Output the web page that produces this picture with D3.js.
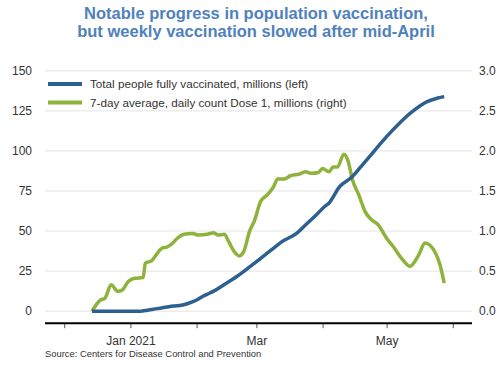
<!DOCTYPE html>
<html>
<head>
<meta charset="utf-8">
<title>Vaccination progress</title>
<script src="https://cdn.jsdelivr.net/npm/d3@7"></script>
<style>
  body { margin: 0; background: #fff; }
  svg { font-family: "Liberation Sans", Arial, sans-serif; }
</style>
</head>
<body>
<svg width="500" height="365"></svg>
<script>
// fully vaccinated, millions (left axis)
var fullyDates = ["2020-12-14","2021-01-06","2021-01-08","2021-01-11","2021-01-16","2021-01-19","2021-01-26","2021-01-30",
  "2021-02-01","2021-02-04","2021-02-07","2021-02-09","2021-02-14","2021-02-20","2021-02-26","2021-03-03","2021-03-08",
  "2021-03-13","2021-03-20","2021-03-24","2021-03-29","2021-04-02","2021-04-04","2021-04-09","2021-04-15","2021-04-19",
  "2021-04-25","2021-05-01","2021-05-07","2021-05-13","2021-05-20","2021-05-25","2021-05-28"];
var fullyValues = [0, 0, 0.4, 1.0, 2.2, 2.8, 4.0, 5.8,
  7.0, 9.3, 11.2, 12.5, 16.7, 21.8, 27.8, 33.0, 38.2,
  43.4, 48.7, 53.8, 60.0, 65.3, 67.4, 77.7, 84.0, 90.2,
  99.6, 108.9, 117.3, 124.5, 130.8, 133.0, 133.9];

// 7-day average daily Dose 1, millions (right axis)
var dose1Dates = ["2020-12-14","2020-12-18","2020-12-20","2020-12-23","2020-12-26","2020-12-28","2020-12-31","2021-01-03",
  "2021-01-07","2021-01-08","2021-01-11","2021-01-13","2021-01-16","2021-01-18","2021-01-20","2021-01-23","2021-01-26",
  "2021-01-30","2021-02-02","2021-02-06","2021-02-09","2021-02-11","2021-02-14","2021-02-16","2021-02-19","2021-02-21",
  "2021-02-23","2021-02-26","2021-02-28","2021-03-03","2021-03-06","2021-03-09","2021-03-11","2021-03-14","2021-03-17",
  "2021-03-21","2021-03-24","2021-03-27","2021-03-30","2021-04-01","2021-04-04","2021-04-06","2021-04-08","2021-04-11",
  "2021-04-13","2021-04-15","2021-04-18","2021-04-21","2021-04-24","2021-04-27","2021-05-01","2021-05-04","2021-05-08",
  "2021-05-12","2021-05-16","2021-05-19","2021-05-24","2021-05-26","2021-05-28"];
var dose1Values = [0, 0.14, 0.16, 0.33, 0.25, 0.26, 0.37, 0.41,
  0.42, 0.60, 0.63, 0.70, 0.79, 0.80, 0.83, 0.91, 0.96,
  0.97, 0.95, 0.96, 0.98, 0.95, 0.96, 0.87, 0.73, 0.69,
  0.74, 1.01, 1.12, 1.37, 1.45, 1.55, 1.65, 1.65, 1.69,
  1.71, 1.74, 1.72, 1.73, 1.78, 1.74, 1.80, 1.80, 1.96,
  1.87, 1.64, 1.45, 1.24, 1.14, 1.08, 0.91, 0.81, 0.66,
  0.56, 0.70, 0.85, 0.72, 0.58, 0.35];

var leftTicks = [0, 25, 50, 75, 100, 125, 150];
var rightTicks = [0, 0.5, 1, 1.5, 2, 2.5, 3];
var seriesNames = ["Total people fully vaccinated, millions (left)",
                   "7-day average, daily count Dose 1, millions (right)"];
var titleLines = ["Notable progress in population vaccination,",
                  "but weekly vaccination slowed after mid-April"];
var source = "Source: Centers for Disease Control and Prevention";

var blue = "#2d5f8f", green = "#8db33c";
var parse = d3.timeParse("%Y-%m-%d");

var svg = d3.select("svg"),
    plotLeft = 45, plotRight = 472, plotTop = 70.8, plotBottom = 323.2;

var x = d3.scaleTime()
    .domain([parse("2020-11-22"), parse("2021-06-10")])
    .range([plotLeft, plotRight]);
var y = d3.scaleLinear().domain([-7.5, 150]).range([plotBottom, plotTop]);
var y2 = d3.scaleLinear().domain([-0.15, 3]).range([plotBottom, plotTop]);

// title
svg.append("g").selectAll("text")
  .data(titleLines)
  .enter().append("text")
    .attr("x", 256)
    .attr("y", function(d, i) { return 18.5 + i * 18; })
    .attr("text-anchor", "middle")
    .attr("font-weight", "bold")
    .attr("font-size", "16.5px")
    .attr("fill", "#4f81bd")
    .text(function(d) { return d; });

// grid
svg.append("g").selectAll("line")
  .data(leftTicks)
  .enter().append("line")
    .attr("x1", plotLeft).attr("x2", plotRight)
    .attr("y1", y).attr("y2", y)
    .attr("stroke", "#e3e3e3").attr("stroke-width", 1);

// left labels
svg.append("g").selectAll("text")
  .data(leftTicks)
  .enter().append("text")
    .attr("x", 32).attr("y", y).attr("dy", "0.35em")
    .attr("text-anchor", "end")
    .attr("font-size", "12px").attr("fill", "#333")
    .text(function(d) { return d; });

// right labels
svg.append("g").selectAll("text")
  .data(rightTicks)
  .enter().append("text")
    .attr("x", 479).attr("y", y2).attr("dy", "0.35em")
    .attr("font-size", "12px").attr("fill", "#333")
    .text(d3.format(".1f"));

// x axis
var xAxis = svg.append("g").attr("transform", "translate(0," + plotBottom + ")")
  .call(d3.axisBottom(x).ticks(d3.timeMonth.every(1)).tickSize(5)
    .tickFormat(function(d) {
      var m = d.getMonth();
      if (m === 0) return "Jan 2021";
      if (m === 2) return "Mar";
      if (m === 4) return "May";
      return "";
    }));
xAxis.select(".domain").remove();
xAxis.selectAll(".tick line").attr("stroke", "#555").attr("stroke-width", 1);
xAxis.selectAll(".tick text").attr("font-size", "12px").attr("fill", "#333")
    .attr("font-family", "Liberation Sans, Arial, sans-serif").attr("dy", "1.15em");
svg.append("line")
    .attr("x1", plotLeft).attr("x2", plotRight)
    .attr("y1", plotBottom).attr("y2", plotBottom)
    .attr("stroke", "#000").attr("stroke-width", 2);

// lines
var fully = fullyDates.map(function(d, i) { return { date: parse(d), value: fullyValues[i] }; });
var dose1 = dose1Dates.map(function(d, i) { return { date: parse(d), value: dose1Values[i] }; });

svg.append("path")
    .datum(dose1)
    .attr("fill", "none").attr("stroke", green).attr("stroke-width", 3.5)
    .attr("stroke-linejoin", "round")
    .attr("d", d3.line().curve(d3.curveMonotoneX)
      .x(function(d) { return x(d.date); })
      .y(function(d) { return y2(d.value); }));

svg.append("path")
    .datum(fully)
    .attr("fill", "none").attr("stroke", blue).attr("stroke-width", 3.5)
    .attr("stroke-linejoin", "round")
    .attr("d", d3.line().curve(d3.curveMonotoneX)
      .x(function(d) { return x(d.date); })
      .y(function(d) { return y(d.value); }));

// legend
var legend = svg.append("g").selectAll("g")
  .data(seriesNames)
  .enter().append("g")
    .attr("transform", function(d, i) { return "translate(48," + (84 + i * 18.5) + ")"; });
legend.append("line")
    .attr("x2", 34)
    .attr("stroke", function(d, i) { return i ? green : blue; })
    .attr("stroke-width", 4);
legend.append("text")
    .attr("x", 42).attr("dy", "0.35em")
    .attr("font-size", "11.7px").attr("fill", "#333")
    .text(function(d) { return d; });

// source
svg.append("text")
    .attr("x", 45).attr("y", 357)
    .attr("font-size", "9.4px").attr("fill", "#333")
    .text(source);
</script>
</body>
</html>
